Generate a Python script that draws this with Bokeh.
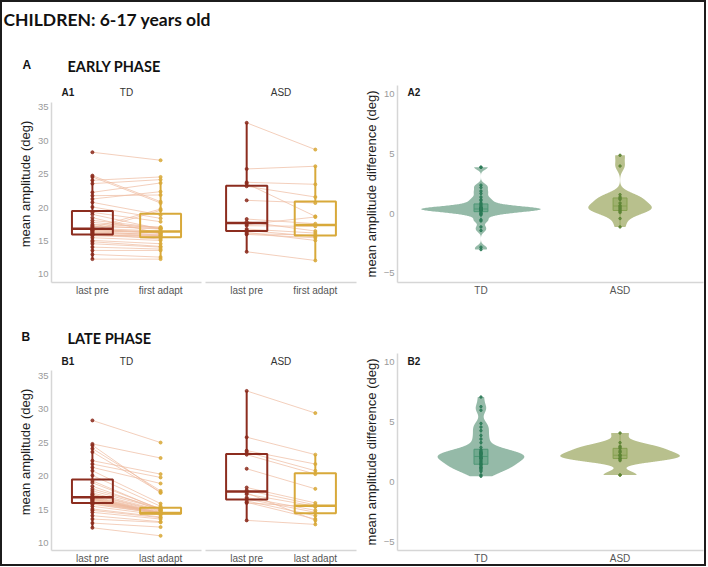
import numpy as np
from bokeh.plotting import figure
from bokeh.layouts import column, row
from bokeh.models import Range1d, FixedTicker, Label
from bokeh.embed import file_html
from bokeh.resources import INLINE

# ---------------- data ----------------
td_pre = [28.3, 24.8, 24.6, 24.1, 23.6, 22.3, 21.8, 21.3, 20.8, 20.1,
          19.3, 19.0, 18.5, 18.1, 17.8, 17.5, 17.3, 17.2, 17.0, 16.9,
          16.8, 16.7, 16.6, 16.6, 16.5, 16.4, 16.3, 16.2, 16.1, 16.0,
          15.9, 15.8, 15.5, 15.1, 14.9, 14.6, 14.1, 13.6, 13.0, 12.3]
td_first = [27.1, 20.9, 20.7, 24.6, 24.2, 23.7, 21.9, 22.4, 18.9, 18.4,
            17.9, 16.8, 16.1, 17.0, 16.9, 17.1, 16.8, 16.9, 19.8, 16.5,
            16.2, 16.4, 19.6, 16.2, 16.3, 15.9, 16.0, 15.8, 15.3, 15.6,
            15.8, 15.5, 15.1, 14.6, 14.2, 14.1, 13.8, 13.6, 12.6, 12.3]
td_last = [25.0, 22.7, 17.5, 17.8, 17.6, 20.3, 19.8, 18.9, 15.9, 15.5,
           15.0, 15.1, 14.9, 15.2, 15.1, 14.9, 14.8, 14.7, 14.6, 14.5,
           14.5, 14.4, 14.4, 14.5, 14.5, 14.5, 14.5, 14.5, 14.5, 14.5,
           14.4, 14.4, 14.2, 13.9, 13.8, 13.6, 13.2, 13.1, 12.4, 11.1]
asd_pre = [32.7, 25.8, 23.8, 23.6, 23.2, 21.1, 18.3, 17.9,
           16.8, 16.6, 16.3, 16.1, 16.0, 13.4, 17.5, 17.3]
asd_first = [28.7, 26.2, 23.5, 18.7, 21.6, 20.7, 17.6, 16.5,
             16.2, 15.7, 15.1, 15.9, 15.5, 12.1, 18.6, 17.2]
asd_last = [29.4, 23.2, 21.8, 20.8, 20.3, 18.1, 16.0, 15.7,
            14.9, 14.6, 14.1, 13.6, 15.4, 12.8, 13.4, 15.5]

groups = ["TD", "ASD"]
early_cats = ["last pre", "first adapt"]
late_cats = ["last pre", "last adapt"]
amp_ticks = [10, 15, 20, 25, 30, 35]
diff_ticks = [-5, 0, 5, 10]

# ---------------- style ----------------
PRE_C = "#8c2d1f"
POST_C = "#d8a93a"
LINE_C = "#eebb9f"
VIOLIN_FILL = {"TD": "#8fb6a3", "ASD": "#b4bd87"}
VIOLIN_BOX = {"TD": "#4f9776", "ASD": "#86a050"}
VIOLIN_PT = {"TD": "#2b7a57", "ASD": "#5d8434"}
AX_LINE = "#d6d6d6"
FONT = "Liberation Sans"
HEAD_FONT = "Lato"


def box_stats(v):
    v = np.asarray(v, float)
    q1, med, q3 = np.percentile(v, [25, 50, 75])
    iqr = q3 - q1
    lo = v[v >= q1 - 1.5 * iqr].min()
    hi = v[v <= q3 + 1.5 * iqr].max()
    return q1, med, q3, lo, hi


def kde(vals, grid):
    v = np.asarray(vals, float)
    n = v.size
    sd = v.std(ddof=1)
    q1, q3 = np.percentile(v, [25, 75])
    bw = 0.9 * min(sd, (q3 - q1) / 1.34) * n ** -0.2
    z = (grid[:, None] - v[None, :]) / bw
    return np.exp(-0.5 * z ** 2).sum(axis=1) / (n * bw * np.sqrt(2 * np.pi))


def tag(p, text, x, y, size="10px", bold=False, align="left", font=FONT,
        baseline="middle", color="#1a1a1a"):
    p.add_layout(Label(x=x, y=y, x_units="screen", y_units="screen", text=text,
                       text_font=font, text_font_size=size,
                       text_font_style="bold" if bold else "normal",
                       text_align=align, text_baseline=baseline, text_color=color))


def base_fig(width, height, yr, mbl, mbr, mbt, mbb, show_y):
    p = figure(width=width, height=height, x_range=Range1d(0.4, 2.6), y_range=yr,
               toolbar_location=None, output_backend="svg", title=None,
               min_border_left=mbl, min_border_right=mbr,
               min_border_top=mbt, min_border_bottom=mbb,
               y_axis_location="left" if show_y else None)
    p.outline_line_color = None
    p.border_fill_alpha = 0
    p.background_fill_alpha = 0
    p.grid.visible = False
    for ax in p.axis:
        ax.axis_line_color = AX_LINE
        ax.axis_line_width = 1.5
        ax.major_tick_line_color = None
        ax.minor_tick_line_color = None
        ax.major_tick_out = 0
        ax.major_tick_in = 0
        ax.minor_tick_out = 0
        ax.minor_tick_in = 0
        ax.major_label_text_font = FONT
    p.xaxis.major_label_text_font_size = "10px"
    p.xaxis.major_label_text_color = "#555555"
    p.xaxis.major_label_standoff = 2
    if show_y:
        p.yaxis.major_label_text_font_size = "9.5px"
        p.yaxis.major_label_text_color = "#9a9a9a"
        p.yaxis.major_label_standoff = 3
        p.yaxis.axis_label_text_font = FONT
        p.yaxis.axis_label_text_font_size = "13px"
        p.yaxis.axis_label_text_font_style = "normal"
        p.yaxis.axis_label_text_color = "#1e1e1e"
        p.yaxis.axis_label_standoff = 2
    return p


def amp_panel(pre, post, cats, yr, bounds, group, width, height, mbl, mbr, mbt, mbb,
              show_y, panel_tag, tag_y):
    p = base_fig(width, height, yr, mbl, mbr, mbt, mbb, show_y)
    n = len(pre)
    p.segment(x0=[1] * n, y0=pre, x1=[2] * n, y1=post,
              line_color=LINE_C, line_alpha=0.7, line_width=1)
    for xi, vals, c in ((1, pre, PRE_C), (2, post, POST_C)):
        q1, med, q3, lo, hi = box_stats(vals)
        p.segment(x0=[xi, xi], y0=[q3, q1], x1=[xi, xi], y1=[hi, lo],
                  line_color=c, line_width=2)
        p.quad(left=[xi - 0.3], right=[xi + 0.3], bottom=[q1], top=[q3],
               fill_color=None, line_color=c, line_width=2)
        p.segment(x0=[xi - 0.3], y0=[med], x1=[xi + 0.3], y1=[med],
                  line_color=c, line_width=2.5)
        p.scatter(x=[xi] * n, y=vals, size=3, color=c, alpha=0.85)
    p.xaxis.ticker = FixedTicker(ticks=[1, 2])
    p.xaxis.major_label_overrides = {1: cats[0], 2: cats[1]}
    if show_y:
        p.yaxis.ticker = FixedTicker(ticks=amp_ticks)
        p.yaxis.axis_label = "mean amplitude (deg)"
        p.yaxis.bounds = bounds
    fw = width - mbl - mbr
    if panel_tag:
        tag(p, panel_tag, 10, tag_y, bold=True)
    tag(p, group, fw / 2, tag_y, align="center", color="#333333")
    return p


def diff_panel(diffs, yr, width, height, mbl, mbr, mbt, mbb, panel_tag, tag_y):
    p = base_fig(width, height, yr, mbl, mbr, mbt, mbb, True)
    grids, dens = {}, {}
    for g, d in zip(groups, diffs):
        grids[g] = np.linspace(min(d), max(d), 512)
        dens[g] = kde(d, grids[g])
    m = max(v.max() for v in dens.values())
    for i, (g, d) in enumerate(zip(groups, diffs)):
        xc = i + 1
        hw = dens[g] / m * 0.43
        xs = np.concatenate([xc - hw, (xc + hw)[::-1]])
        ys = np.concatenate([grids[g], grids[g][::-1]])
        p.patch(xs, ys, fill_color=VIOLIN_FILL[g], line_color=None, fill_alpha=0.95)
        q1, med, q3, lo, hi = box_stats(d)
        bc = VIOLIN_BOX[g]
        p.segment(x0=[xc, xc], y0=[q3, q1], x1=[xc, xc], y1=[hi, lo],
                  line_color=bc, line_width=1, line_alpha=0.7)
        p.quad(left=[xc - 0.05], right=[xc + 0.05], bottom=[q1], top=[q3],
               fill_color=bc, fill_alpha=0.5, line_color=bc, line_width=1)
        p.segment(x0=[xc - 0.05], y0=[med], x1=[xc + 0.05], y1=[med],
                  line_color=bc, line_width=1)
        p.scatter(x=[xc] * len(d), y=d, size=2.5, color=VIOLIN_PT[g], alpha=0.85)
    p.xaxis.ticker = FixedTicker(ticks=[1, 2])
    p.xaxis.major_label_overrides = {1: groups[0], 2: groups[1]}
    p.yaxis.ticker = FixedTicker(ticks=diff_ticks)
    p.yaxis.axis_label = "mean amplitude difference (deg)"
    tag(p, panel_tag, 10, tag_y, bold=True)
    return p


def header(width, height):
    p = figure(width=width, height=height, x_range=Range1d(0, 1), y_range=Range1d(0, 1),
               toolbar_location=None, output_backend="svg", title=None,
               x_axis_location=None, y_axis_location=None, min_border=0)
    p.outline_line_color = None
    p.border_fill_alpha = 0
    p.background_fill_alpha = 0
    p.grid.visible = False
    return p


td_early_diff = list(np.array(td_pre) - np.array(td_first))
asd_early_diff = list(np.array(asd_pre) - np.array(asd_first))
td_late_diff = list(np.array(td_pre) - np.array(td_last))
asd_late_diff = list(np.array(asd_pre) - np.array(asd_last))

amp_range_a = Range1d(8.80, 38.29)
amp_range_b = Range1d(8.91, 38.28)
diff_range_a = Range1d(-5.76, 10.75)
diff_range_b = Range1d(-5.69, 10.73)

W_TD, W_ASD, W_DIFF = 203, 155, 348

# header A (page y 0..80)
ha = header(706, 80)
tag(ha, "CHILDREN: 6-17 years old", 3, 80 - 18.5, size="17.5px", bold=True,
    font=HEAD_FONT, baseline="alphabetic", color="#111111")
tag(ha, "A", 22, 80 - 64.5, size="12px", bold=True, baseline="alphabetic", color="#111111")
tag(ha, "EARLY PHASE", 67, 80 - 66, size="14.5px", bold=True, font=HEAD_FONT,
    baseline="alphabetic", color="#111111")

# row A (page y 80..300), frames 85..282
a1_td = amp_panel(td_pre, td_first, early_cats, amp_range_a, (8.80, 35.75), "TD",
                  W_TD, 220, 51, 2, 5, 18, True, "A1", 190)
a1_asd = amp_panel(asd_pre, asd_first, early_cats, amp_range_a, (8.80, 35.75), "ASD",
                   W_ASD, 220, 2, 2, 5, 18, False, None, 190)
a2 = diff_panel([td_early_diff, asd_early_diff], diff_range_a, W_DIFF, 220, 39, 3, 5, 18, "A2", 190)

# header B (page y 300..348)
hb = header(706, 48)
tag(hb, "B", 21, 12, size="12px", bold=True, baseline="alphabetic", color="#111111")
tag(hb, "LATE PHASE", 67, 9.7, size="14.5px", bold=True, font=HEAD_FONT,
    baseline="alphabetic", color="#111111")

# row B (page y 348..566), frames 353..550
b1_td = amp_panel(td_pre, td_last, late_cats, amp_range_b, (8.91, 35.75), "TD",
                  W_TD, 218, 51, 2, 5, 16, True, "B1", 189)
b1_asd = amp_panel(asd_pre, asd_last, late_cats, amp_range_b, (8.91, 35.75), "ASD",
                   W_ASD, 218, 2, 2, 5, 16, False, None, 189)
b2 = diff_panel([td_late_diff, asd_late_diff], diff_range_b, W_DIFF, 218, 39, 3, 5, 16, "B2", 189)

layout = column(ha, row(a1_td, a1_asd, a2), hb, row(b1_td, b1_asd, b2),
                styles={"outline": "2px solid #1c1c1c", "outline-offset": "-2px"})

open("out.html", "w").write(file_html(layout, INLINE))
